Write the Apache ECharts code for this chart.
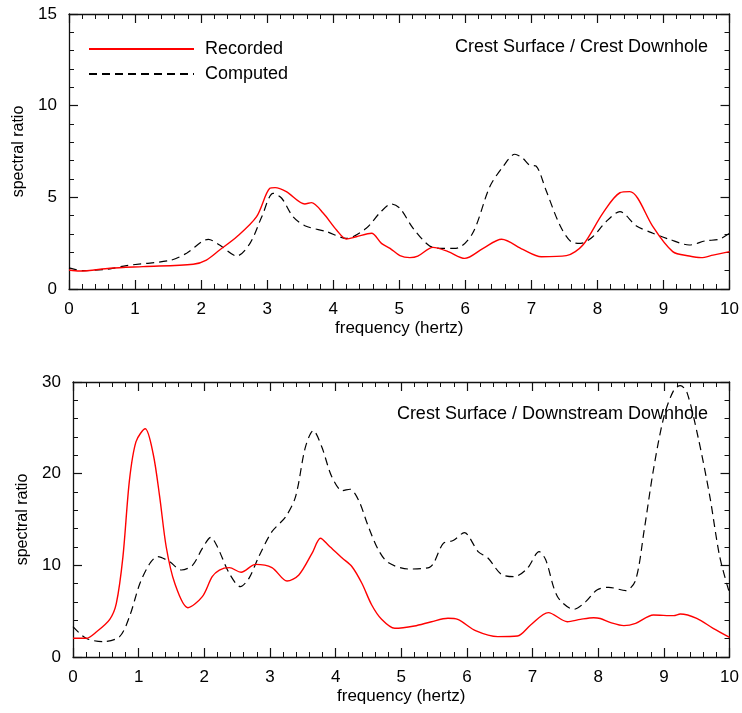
<!DOCTYPE html>
<html>
<head>
<meta charset="utf-8">
<script src="https://cdn.jsdelivr.net/npm/echarts@6/dist/echarts.min.js"></script>
<style>
  html, body { margin: 0; padding: 0; background: #fff; }
  #chart { width: 742px; height: 713px; }
</style>
</head>
<body>
<div id="chart"></div>
<script>
// frequency (hertz), spectral ratio pairs
const recordedTop = [
  [0, 1.04], [0.16, 0.98], [0.62, 1.13], [1.12, 1.22], [1.88, 1.35], [2.08, 1.58],
  [2.28, 2.13], [2.54, 2.85], [2.84, 3.95], [3.04, 5.49], [3.12, 5.53], [3.29, 5.31],
  [3.57, 4.64], [3.67, 4.71], [3.85, 4.13], [4.05, 3.22], [4.2, 2.73], [4.35, 2.85],
  [4.58, 3.04], [4.73, 2.49], [4.86, 2.22], [5.01, 1.82], [5.16, 1.71], [5.28, 1.79],
  [5.51, 2.27], [5.74, 2.04], [5.99, 1.67], [6.27, 2.22], [6.55, 2.71], [6.87, 2.16],
  [7.15, 1.76], [7.53, 1.82], [7.78, 2.4], [8.08, 4.13], [8.34, 5.25], [8.49, 5.31],
  [8.61, 4.95], [8.84, 3.4], [9.14, 2.04], [9.39, 1.8], [9.57, 1.71], [9.75, 1.85], [10, 2.04]
];
const computedTop = [
  [0, 1.15], [0.2, 1.0], [0.62, 1.1], [0.87, 1.28], [1.53, 1.56], [1.78, 1.95],
  [2.11, 2.71], [2.28, 2.4], [2.54, 1.8], [2.74, 2.49], [2.92, 3.95], [3.09, 5.22],
  [3.22, 4.95], [3.39, 3.95], [3.57, 3.45], [3.9, 3.13], [4.2, 2.76], [4.5, 3.31],
  [4.7, 4.13], [4.88, 4.64], [5.01, 4.4], [5.21, 3.31], [5.46, 2.35], [5.66, 2.22],
  [5.86, 2.22], [6.11, 3.04], [6.37, 5.58], [6.57, 6.67], [6.75, 7.35], [6.87, 7.13],
  [6.97, 6.76], [7.07, 6.71], [7.22, 5.4], [7.43, 3.49], [7.6, 2.58], [7.75, 2.49],
  [7.93, 2.85], [8.13, 3.67], [8.34, 4.22], [8.59, 3.44], [8.84, 3.04], [9.09, 2.71],
  [9.39, 2.4], [9.64, 2.63], [9.84, 2.71], [10, 3.04]
];
const recordedBottom = [
  [0, 2.04], [0.2, 2.04], [0.36, 2.76], [0.56, 4.11], [0.66, 5.85], [0.76, 10.9],
  [0.86, 19.3], [0.96, 23.5], [1.1, 24.9], [1.22, 22.2], [1.32, 17.5], [1.42, 12.0],
  [1.55, 8.04], [1.75, 5.38], [1.97, 6.58], [2.12, 8.76], [2.23, 9.49], [2.38, 9.75],
  [2.56, 9.24], [2.78, 10.1], [3.03, 9.75], [3.26, 8.29], [3.44, 8.95], [3.64, 11.3],
  [3.77, 12.95], [3.89, 12.2], [4.1, 10.8], [4.25, 9.85], [4.4, 8.04], [4.55, 5.67],
  [4.7, 4.11], [4.9, 3.13], [5.2, 3.38], [5.46, 3.85], [5.71, 4.22], [5.86, 4.1],
  [6.14, 2.84], [6.47, 2.22], [6.77, 2.29], [6.97, 3.49], [7.24, 4.84], [7.53, 3.85],
  [7.73, 4.11], [7.93, 4.29], [8.03, 4.2], [8.19, 3.75], [8.39, 3.42], [8.57, 3.67],
  [8.84, 4.58], [9.15, 4.51], [9.25, 4.69], [9.5, 4.22], [9.75, 3.13], [10, 2.15]
];
const computedBottom = [
  [0, 3.31], [0.2, 2.04], [0.46, 1.67], [0.71, 2.22], [0.86, 4.4], [1.02, 8.04],
  [1.17, 10.2], [1.29, 10.95], [1.47, 10.4], [1.65, 9.49], [1.82, 10.0], [1.97, 11.85],
  [2.1, 13.05], [2.2, 12.0], [2.38, 9.13], [2.55, 7.67], [2.68, 8.58], [2.83, 10.95],
  [3.03, 13.67], [3.24, 15.3], [3.39, 17.5], [3.54, 22.9], [3.66, 24.7], [3.79, 22.9],
  [3.94, 19.7], [4.1, 18.15], [4.22, 18.3], [4.35, 17.1], [4.5, 14.2], [4.65, 11.7],
  [4.8, 10.3], [5.11, 9.6], [5.43, 9.78], [5.64, 12.4], [5.79, 12.7], [5.96, 13.56],
  [6.17, 11.5], [6.32, 10.8], [6.52, 9.05], [6.72, 8.76], [6.92, 9.67], [7.1, 11.5],
  [7.2, 10.6], [7.38, 6.58], [7.63, 5.2], [7.81, 6.04], [7.98, 7.31], [8.16, 7.6],
  [8.42, 7.24], [8.57, 8.4], [8.7, 13.85], [8.84, 20.4], [9.0, 26.2], [9.15, 29.1],
  [9.25, 29.6], [9.35, 28.9], [9.52, 24.0], [9.7, 17.5], [9.85, 10.95], [10, 6.95]
];
const seriesNames = ['Recorded', 'Computed'];
const panelTitles = ['Crest Surface / Crest Downhole', 'Crest Surface / Downstream Downhole'];
const xName = 'frequency (hertz)';
const yName = 'spectral ratio';

const chart = echarts.init(document.getElementById('chart'));
const ink = '#111';

// shared axis look: ticks pointing inward on every side
function axisBase(min, max, interval, showLabel) {
  return {
    type: 'value', min: min, max: max, interval: interval,
    axisLine: { show: true, onZero: false, lineStyle: { color: ink, width: 1.3 } },
    axisTick: { show: true, inside: true, length: 9, lineStyle: { color: ink, width: 1.2 } },
    minorTick: { show: true, splitNumber: 5, length: 5, lineStyle: { color: ink, width: 1 } },
    splitLine: { show: false },
    minorSplitLine: { show: false },
    axisLabel: { show: showLabel, fontSize: 17, color: '#000', margin: 12 }
  };
}
function xAx(grid, pos) {
  const a = axisBase(0, 10, 1, pos === 'bottom');
  a.gridIndex = grid; a.position = pos;
  if (pos === 'bottom') {
    a.name = xName; a.nameLocation = 'middle'; a.nameGap = 31;
    a.nameTextStyle = { fontSize: 17, color: '#000' };
  }
  return a;
}
function yAx(grid, pos, max, interval) {
  const a = axisBase(0, max, interval, pos === 'left');
  a.gridIndex = grid; a.position = pos;
  a.axisLabel.margin = 12;
  if (pos === 'left') {
    a.name = yName; a.nameLocation = 'middle'; a.nameGap = 42;
    a.nameTextStyle = { fontSize: 16, color: '#000' };
  }
  return a;
}

const redLine = { color: '#ff0000', width: 1.4, type: 'solid' };
const dashLine = { color: '#000', width: 1.2, type: [8, 5] };

const option = {
  animation: false,
  backgroundColor: '#fff',
  textStyle: { fontFamily: 'Liberation Sans, Arial, sans-serif' },
  grid: [
    { left: 69, top: 14, width: 661, height: 275 },
    { left: 73, top: 382, width: 660, height: 275 }
  ],
  xAxis: [xAx(0, 'bottom'), xAx(0, 'top'), xAx(1, 'bottom'), xAx(1, 'top')],
  yAxis: [yAx(0, 'left', 15, 5), yAx(0, 'right', 15, 5), yAx(1, 'left', 30, 10), yAx(1, 'right', 30, 10)],
  title: [
    { text: panelTitles[0], right: 34, top: 38, padding: 0,
      textStyle: { fontSize: 18, fontWeight: 'normal', color: '#000' } },
    { text: panelTitles[1], right: 34, top: 405, padding: 0,
      textStyle: { fontSize: 18, fontWeight: 'normal', color: '#000' } }
  ],
  legend: {
    data: seriesNames, orient: 'vertical', left: 88, top: 40, padding: 0,
    itemWidth: 105, itemHeight: 14, itemGap: 7,
    itemStyle: { opacity: 0 },
    textStyle: { fontSize: 18, color: '#000', padding: [0, 0, 0, 6] }
  },
  series: [
    { name: seriesNames[0], type: 'line', xAxisIndex: 0, yAxisIndex: 0, data: recordedTop,
      smooth: 0.3, symbol: 'none', lineStyle: redLine, itemStyle: { color: '#ff0000' }, z: 3 },
    { name: seriesNames[1], type: 'line', xAxisIndex: 0, yAxisIndex: 0, data: computedTop,
      smooth: 0.3, symbol: 'none', lineStyle: dashLine, itemStyle: { color: '#000' }, z: 2 },
    { name: seriesNames[0], type: 'line', xAxisIndex: 2, yAxisIndex: 2, data: recordedBottom,
      smooth: 0.3, symbol: 'none', lineStyle: redLine, itemStyle: { color: '#ff0000' }, z: 3 },
    { name: seriesNames[1], type: 'line', xAxisIndex: 2, yAxisIndex: 2, data: computedBottom,
      smooth: 0.3, symbol: 'none', lineStyle: dashLine, itemStyle: { color: '#000' }, z: 2 }
  ]
};

chart.setOption(option);
</script>
</body>
</html>
